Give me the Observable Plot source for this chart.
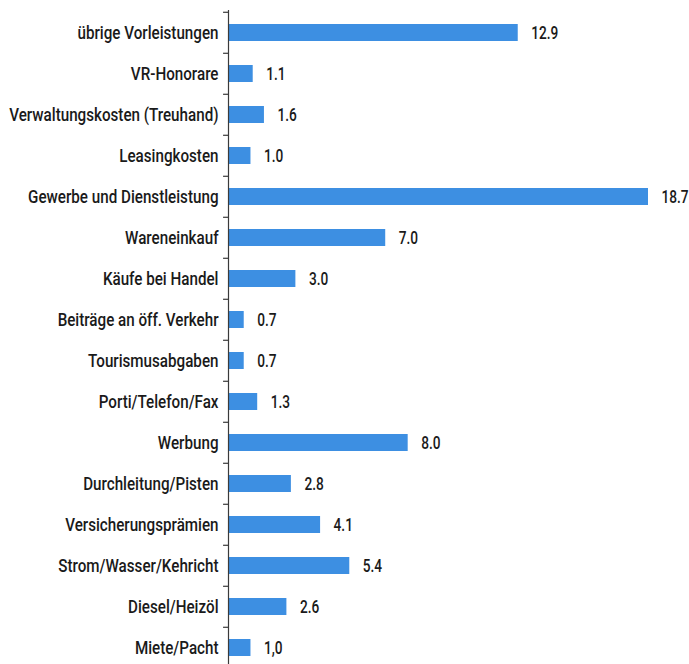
<!DOCTYPE html>
<html>
<head>
<meta charset="utf-8">
<script src="https://cdn.jsdelivr.net/npm/d3@7"></script>
<script src="https://cdn.jsdelivr.net/npm/@observablehq/plot@0.6"></script>
<style>
  html, body { margin: 0; padding: 0; background: #fff; }
  svg { display: block; }
</style>
</head>
<body>
<div id="chart"></div>
<script>
const categories = [
  "übrige Vorleistungen",
  "VR-Honorare",
  "Verwaltungskosten (Treuhand)",
  "Leasingkosten",
  "Gewerbe und Dienstleistung",
  "Wareneinkauf",
  "Käufe bei Handel",
  "Beiträge an öff. Verkehr",
  "Tourismusabgaben",
  "Porti/Telefon/Fax",
  "Werbung",
  "Durchleitung/Pisten",
  "Versicherungsprämien",
  "Strom/Wasser/Kehricht",
  "Diesel/Heizöl",
  "Miete/Pacht"
];
const values = [12.9, 1.1, 1.6, 1.0, 18.7, 7.0, 3.0, 0.7, 0.7, 1.3, 8.0, 2.8, 4.1, 5.4, 2.6, 1.0];
const valueLabels = ["12.9", "1.1", "1.6", "1.0", "18.7", "7.0", "3.0", "0.7", "0.7", "1.3", "8.0", "2.8", "4.1", "5.4", "2.6", "1,0"];

const data = categories.map((c, i) => ({category: c, value: values[i], label: valueLabels[i]}));

const W = 689, H = 664;
const yStart = 8.8, step = 41.43;
const yEnd = yStart + step * categories.length;
const font = "Roboto, 'DejaVu Sans Condensed', sans-serif";
const squeezeLabels = 0.8;
const squeezeValues = 0.72;

const chart = Plot.plot({
  width: W,
  height: H,
  marginLeft: 228,
  marginRight: 41,
  marginTop: 10,
  marginBottom: 0,
  style: {fontFamily: font, fontSize: "19px", fontWeight: 500, color: "#1a1a1a", background: "#fff"},
  x: {domain: [0, 18.7], axis: null},
  y: {domain: categories, range: [yStart, yEnd], padding: 0, label: null},
  marks: [
    Plot.barX(data, {
      y: "category", x: "value",
      fill: "#3d8fe2",
      insetTop: 12, insetBottom: 12
    }),
    Plot.ruleX([0], {stroke: "#3a3a3a", strokeWidth: 1.2}),
    Plot.ruleY(data, {
      y: "category", x1: 0, x2: -0.22,
      dy: -step / 2,
      stroke: "#3a3a3a", strokeWidth: 1.2
    }),
    Plot.axisY({
      tickSize: 0, tickPadding: 10, label: null,
      fontSize: 19, fontWeight: 500, fill: "#1a1a1a"
    }),
    Plot.text(data, {
      y: "category", x: "value", text: "label",
      textAnchor: "start", dx: 13,
      fontSize: 19, fontWeight: 500, fill: "#1a1a1a"
    })
  ]
});
// condense glyphs horizontally around each text's anchor point
chart.querySelectorAll("text").forEach((t) => {
  const g = t.closest("g[aria-label]");
  const isAxis = g && /axis/.test(g.getAttribute("aria-label"));
  const s = isAxis ? squeezeLabels : squeezeValues;
  const xa = t.getAttribute("x");
  const x = xa != null && !isNaN(+xa) ? +xa : 0;
  const tr = t.getAttribute("transform") || "";
  t.setAttribute("transform", `${tr} translate(${x},0) scale(${s},1) translate(${-x},0)`);
});
document.getElementById("chart").appendChild(chart);
</script>
</body>
</html>
